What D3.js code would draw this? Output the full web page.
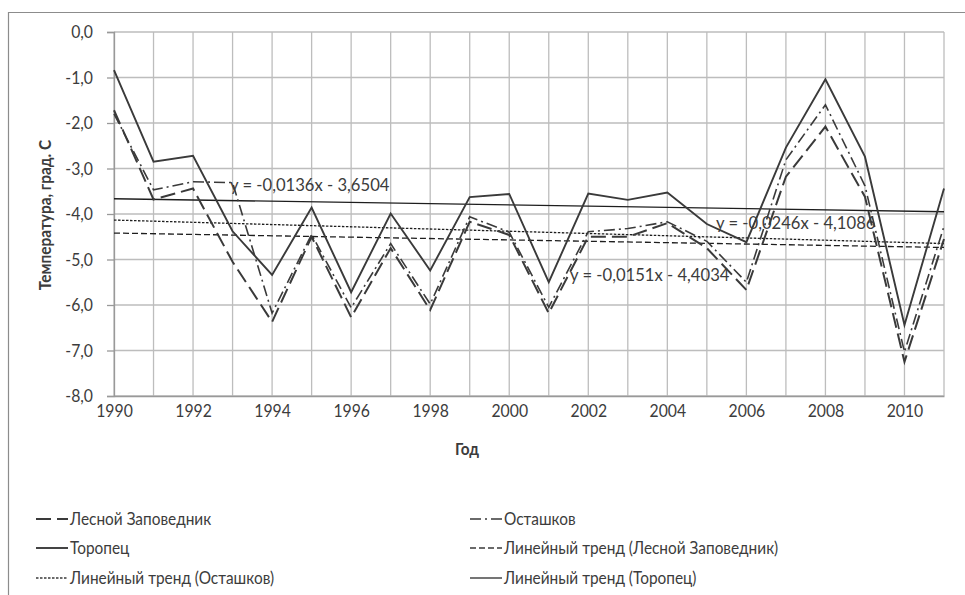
<!DOCTYPE html>
<html>
<head>
<meta charset="utf-8">
<script src="https://cdn.jsdelivr.net/npm/d3@7"></script>
<style>
  html, body { margin: 0; padding: 0; background: #fff; }
  svg { display: block; font-family: Lato, "Open Sans", sans-serif; }
</style>
</head>
<body>
<svg id="chart" width="965" height="595"></svg>
<script>
// Годы наблюдений
const years = [1990, 1991, 1992, 1993, 1994, 1995, 1996, 1997, 1998, 1999, 2000,
               2001, 2002, 2003, 2004, 2005, 2006, 2007, 2008, 2009, 2010, 2011];

// Среднегодовая температура, град. С
const lesnoy = [-1.72, -3.68, -3.44, -5.05, -6.37, -4.50, -6.27, -4.75, -6.11, -4.17, -4.46,
                -6.18, -4.50, -4.50, -4.20, -4.75, -5.67, -3.18, -2.08, -3.62, -7.25, -4.55];
const ostashkov = [-1.80, -3.47, -3.29, -3.31, -6.18, -4.45, -6.06, -4.65, -5.98, -4.06, -4.40,
                   -6.05, -4.39, -4.32, -4.17, -4.60, -5.50, -2.81, -1.60, -3.38, -7.03, -4.27];
const toropets = [-0.84, -2.85, -2.72, -4.38, -5.34, -3.86, -5.72, -3.99, -5.24, -3.63, -3.56,
                  -5.50, -3.55, -3.69, -3.53, -4.22, -4.62, -2.54, -1.04, -2.74, -6.44, -3.44];

// Линейные тренды y = a*x + b (x = 1 для 1990)
const trendSlopes = [-0.0151, -0.0246, -0.0136];      // Лесной Заповедник, Осташков, Торопец
const trendIntercepts = [-4.4034, -4.1086, -3.6504];
const trendLabels = ["y = -0,0151x - 4,4034", "y = -0,0246x - 4,1086", "y = -0,0136x - 3,6504"];

const yTicks = [0, -1, -2, -3, -4, -5, -6, -7, -8];
const xTickLabels = [1990, 1992, 1994, 1996, 1998, 2000, 2002, 2004, 2006, 2008, 2010];

const legendNames = ["Лесной Заповедник", "Осташков", "Торопец",
                     "Линейный тренд (Лесной Заповедник)", "Линейный тренд (Осташков)",
                     "Линейный тренд (Торопец)"];

const svg = d3.select("#chart");
const ink = "#3a3a3a";
const textColor = "#3c3c3c";
const fontSize = 17.5;

// Узкое начертание: сжимаем текст по горизонтали
function condense(sel, factor) {
  sel.each(function () {
    const w = this.getComputedTextLength();
    d3.select(this).attr("textLength", w * factor).attr("lengthAdjust", "spacingAndGlyphs");
  });
}

// Рамка области диаграммы
svg.append("path")
  .attr("d", "M8.5,595 V12.5 H965")
  .attr("fill", "none").attr("stroke", "#8c8c8c").attr("stroke-width", 1.2);

const x = d3.scaleLinear().domain([1990, 2011]).range([114, 944]);
const y = d3.scaleLinear().domain([-8, 0]).range([396, 32]);

const ru = d3.formatLocale({decimal: ",", thousands: " ", grouping: [3], currency: ["", ""], minus: "-"});
const fmt = ru.format(".1f");

// Сетка
const grid = svg.append("g");
grid.selectAll("line.v").data(years).join("line")
  .attr("x1", d => x(d)).attr("x2", d => x(d))
  .attr("y1", y(0)).attr("y2", y(-8))
  .attr("stroke", "#bdbdbd").attr("stroke-width", 1.3);
grid.selectAll("line.h").data(yTicks).join("line")
  .attr("x1", x(1990)).attr("x2", x(2011))
  .attr("y1", d => y(d)).attr("y2", d => y(d))
  .attr("stroke", "#bdbdbd").attr("stroke-width", 1.3);

// Ось Y
const yAxis = svg.append("g")
  .attr("transform", `translate(${x(1990)},0)`)
  .call(d3.axisLeft(y).tickValues(yTicks).tickFormat(fmt).tickSize(7).tickPadding(14));
yAxis.select(".domain").attr("stroke", "#999").attr("stroke-width", 1.3);
yAxis.selectAll(".tick line").attr("stroke", "#999").attr("stroke-width", 1.3);
yAxis.selectAll("text").attr("fill", textColor).style("font-size", fontSize + "px")
  .style("font-family", "Lato, sans-serif");
condense(yAxis.selectAll("text"), 0.9);

// Ось X
const xAxis = svg.append("g")
  .attr("transform", `translate(0,${y(-8)})`)
  .call(d3.axisBottom(x).tickValues(xTickLabels).tickFormat(d3.format("d")).tickSize(0).tickPadding(9));
xAxis.select(".domain").attr("stroke", "#999").attr("stroke-width", 1.3);
xAxis.selectAll("text").attr("fill", textColor).style("font-size", fontSize + "px")
  .style("font-family", "Lato, sans-serif");
condense(xAxis.selectAll("text"), 0.9);

// Подписи осей
const xTitle = svg.append("text")
  .attr("x", 467).attr("y", 455)
  .attr("text-anchor", "middle")
  .attr("fill", textColor).attr("font-weight", "bold").attr("font-size", fontSize)
  .text("Год");
condense(xTitle, 0.88);
const yTitle = svg.append("text")
  .attr("transform", "translate(51,215) rotate(-90)")
  .attr("text-anchor", "middle")
  .attr("fill", textColor).attr("font-weight", "bold").attr("font-size", fontSize)
  .text("Температура, град. С");
condense(yTitle, 0.88);

// Стили серий
const seriesStyles = [
  {dash: "15,6", width: 2.0},        // Лесной Заповедник
  {dash: "11,4,2,4", width: 1.6},    // Осташков
  {dash: null, width: 1.9}           // Торопец
];
const trendStyles = [
  {dash: "6,3", width: 1.3},
  {dash: "2.5,1.5", width: 1.3},
  {dash: null, width: 1.4}
];

const series = [lesnoy, ostashkov, toropets];
const line = d3.line().x((d, i) => x(years[i])).y(d => y(d));

// Линии трендов
const trendG = svg.append("g");
trendSlopes.forEach((a, k) => {
  const b = trendIntercepts[k];
  const ends = [years[0], years[years.length - 1]];
  trendG.append("line")
    .attr("x1", x(ends[0])).attr("y1", y(a * (ends[0] - 1989) + b))
    .attr("x2", x(ends[1])).attr("y2", y(a * (ends[1] - 1989) + b))
    .attr("stroke", "#1e1e1e").attr("stroke-width", trendStyles[k].width)
    .attr("stroke-dasharray", trendStyles[k].dash);
});

// Ряды данных
const seriesG = svg.append("g");
series.forEach((vals, k) => {
  seriesG.append("path")
    .datum(vals)
    .attr("d", line)
    .attr("fill", "none")
    .attr("stroke", ink)
    .attr("stroke-width", seriesStyles[k].width)
    .attr("stroke-linejoin", "miter")
    .attr("stroke-dasharray", seriesStyles[k].dash);
});

// Уравнения трендов
const eqPos = [{x: 570, y: 281}, {x: 716, y: 229}, {x: 230, y: 191}];
trendLabels.forEach((t, k) => {
  const el = svg.append("text")
    .attr("x", eqPos[k].x).attr("y", eqPos[k].y)
    .attr("fill", textColor).attr("font-size", fontSize)
    .text(t);
  condense(el, 0.95);
});

// Легенда
const legendItems = [
  {name: legendNames[0], st: seriesStyles[0], col: 0, row: 0},
  {name: legendNames[1], st: seriesStyles[1], col: 1, row: 0},
  {name: legendNames[2], st: seriesStyles[2], col: 0, row: 1},
  {name: legendNames[3], st: trendStyles[0], col: 1, row: 1},
  {name: legendNames[4], st: trendStyles[1], col: 0, row: 2},
  {name: legendNames[5], st: trendStyles[2], col: 1, row: 2}
];
const colX = [36, 470];
const rowY = [519, 548, 578];
const lg = svg.append("g");
legendItems.forEach(it => {
  const gx = colX[it.col], gy = rowY[it.row];
  lg.append("line")
    .attr("x1", gx).attr("x2", gx + 32)
    .attr("y1", gy).attr("y2", gy)
    .attr("stroke", ink).attr("stroke-width", it.st.width)
    .attr("stroke-dasharray", it.st.dash);
  const t = lg.append("text")
    .attr("x", gx + 34).attr("y", gy + 6)
    .attr("fill", textColor).attr("font-size", fontSize)
    .text(it.name);
  condense(t, 0.88);
});
</script>
</body>
</html>
